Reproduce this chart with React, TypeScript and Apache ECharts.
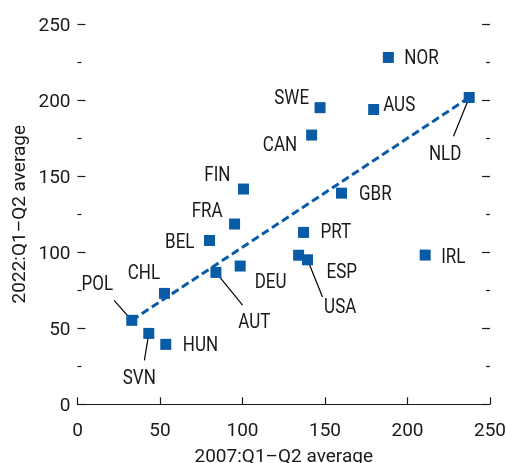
import React, { useEffect, useRef } from "react";
import * as echarts from "echarts";

const countries = ["NOR", "SWE", "AUS", "NLD", "CAN", "GBR", "PRT", "ESP", "USA", "IRL", "FIN", "FRA", "BEL", "DEU", "AUT", "CHL", "POL", "SVN", "HUN"];
const avg2007 = [188.4, 147, 179.5, 237.4, 141.9, 160, 137, 134, 139.4, 210.7, 100.6, 95.2, 80, 98.6, 83.9, 52.7, 32.9, 43.2, 53.5];
const avg2022 = [228, 195, 193.8, 201.7, 177, 138.8, 113, 98, 95, 98.1, 141.5, 118.5, 107.7, 90.9, 86.7, 72.9, 55.2, 46.6, 39.4];
const trendX = [32.9, 237.4];
const trendY = [55.2, 201.7];
const axisTicks = [0, 50, 100, 150, 200, 250];

type Place = { dx: number; dy: number; align: string; leader?: [number, number] };
const placement: Record<string, Place> = {
  NOR: { dx: 16, dy: 0, align: "left" },
  SWE: { dx: -11, dy: -10.5, align: "right" },
  AUS: { dx: 9.5, dy: -5, align: "left" },
  NLD: { dx: -24, dy: 56, align: "center", leader: [-15.7, 38.7] },
  CAN: { dx: -14.5, dy: 9, align: "right" },
  GBR: { dx: 17.5, dy: 0, align: "left" },
  PRT: { dx: 17, dy: -0.5, align: "left" },
  ESP: { dx: 28, dy: 16, align: "left" },
  USA: { dx: 32.7, dy: 46.7, align: "center", leader: [15, 37.3] },
  IRL: { dx: 16, dy: 1, align: "left" },
  FIN: { dx: -13, dy: -15, align: "right" },
  FRA: { dx: -12, dy: -14, align: "right" },
  BEL: { dx: -15, dy: 1, align: "right" },
  DEU: { dx: 14.5, dy: 15.7, align: "left" },
  AUT: { dx: 38.3, dy: 49.4, align: "center", leader: [26.6, 32.7] },
  CHL: { dx: -20.5, dy: -21.3, align: "center" },
  POL: { dx: -34.5, dy: -36.6, align: "center", leader: [-17.7, -20] },
  SVN: { dx: -9.5, dy: 44.4, align: "center", leader: [-4.4, 27] },
  HUN: { dx: 17, dy: 0, align: "left" },
};

const FONT = "Roboto, 'Liberation Sans', sans-serif";
const TEXT = "#1a1a1a";
const BLUE = "#0a5ba6";

export default function App() {
  const ref = useRef<HTMLDivElement>(null);
  useEffect(() => {
    if (!ref.current) return;
    const chart = echarts.init(ref.current, undefined, { renderer: "svg" });
    const points = countries.map((c, i) => [avg2007[i], avg2022[i]]);
    const yCommon = {
      type: "value",
      min: axisTicks[0],
      max: axisTicks[axisTicks.length - 1],
      interval: axisTicks[1] - axisTicks[0],
      axisLine: { show: false },
      axisTick: { show: true, inside: true, length: 8, lineStyle: { color: TEXT, width: 1.2 } },
      minorTick: { show: true, splitNumber: 2, length: 4, lineStyle: { color: TEXT, width: 1.2 } },
      splitLine: { show: false },
    };
    chart.setOption({
      animation: false,
      grid: { left: 77.5, right: 16, top: 24, bottom: 58.7, outerBoundsMode: "none", containLabel: false },
      xAxis: {
        type: "value",
        min: axisTicks[0],
        max: axisTicks[axisTicks.length - 1],
        interval: axisTicks[1] - axisTicks[0],
        axisLine: { show: true, lineStyle: { color: TEXT, width: 1.2 } },
        axisTick: { show: true, inside: true, length: 7, lineStyle: { color: TEXT, width: 1.2 } },
        axisLabel: { margin: 16, fontSize: 19, fontFamily: FONT, color: TEXT },
        splitLine: { show: false },
        name: "2007:Q1–Q2 average",
        nameLocation: "middle",
        nameGap: 42,
        nameTextStyle: { fontSize: 19, fontFamily: FONT, color: TEXT },
      },
      yAxis: [
        {
          ...yCommon,
          position: "left",
          axisLabel: { margin: 7, fontSize: 19, fontFamily: FONT, color: TEXT },
          name: "2022:Q1–Q2 average",
          nameLocation: "middle",
          nameGap: 45,
          nameTextStyle: { fontSize: 19, fontFamily: FONT, color: TEXT },
        },
        {
          ...yCommon,
          position: "right",
          axisLabel: { show: false },
        },
      ],
      series: [
        {
          type: "line",
          data: trendX.map((x, i) => [x, trendY[i]]),
          symbol: "none",
          lineStyle: { color: BLUE, width: 3, type: [8, 4] },
          z: 2,
        },
        {
          type: "custom",
          data: points,
          encode: { x: 0, y: 1 },
          clip: false,
          z: 3,
          renderItem: (params: any, api: any) => {
            const i = params.dataIndex;
            const p = api.coord([api.value(0), api.value(1)]);
            const name = countries[i];
            const pl = placement[name];
            const children: any[] = [
              {
                type: "text",
                x: p[0] + pl.dx,
                y: p[1] + pl.dy,
                scaleX: 0.85,
                style: {
                  text: name,
                  fill: TEXT,
                  fontSize: 20,
                  fontFamily: FONT,
                  align: pl.align,
                  verticalAlign: "middle",
                },
              },
            ];
            if (pl.leader) {
              children.push({
                type: "line",
                shape: { x1: p[0], y1: p[1], x2: p[0] + pl.leader[0], y2: p[1] + pl.leader[1] },
                style: { stroke: "#000", lineWidth: 1.2 },
              });
            }
            return { type: "group", children };
          },
        },
        {
          type: "scatter",
          data: points,
          symbol: "rect",
          symbolSize: 11,
          itemStyle: { color: BLUE, opacity: 1 },
          z: 4,
        },
      ],
    });
    return () => chart.dispose();
  }, []);
  return <div ref={ref} style={{ position: "fixed", left: 0, top: 0, width: 506, height: 463 }} />;
}
